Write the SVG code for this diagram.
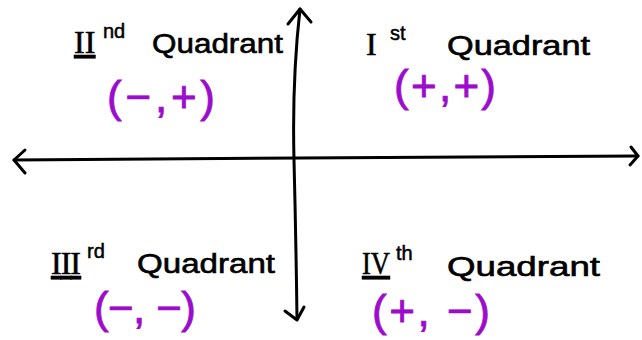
<svg xmlns="http://www.w3.org/2000/svg" width="642" height="340" viewBox="0 0 642 340">
<style>
.ax{fill:none;stroke:#000;stroke-width:3;stroke-linecap:round;stroke-linejoin:round}
.rn{font-family:"Liberation Serif",serif;font-size:32px;fill:#000;stroke:#000;stroke-width:0.6}
.sup{font-family:"Liberation Sans",sans-serif;font-size:20px;fill:#000;stroke:#000;stroke-width:0.5}
.q{font-family:"Liberation Sans",sans-serif;font-size:27px;fill:#000;stroke:#000;stroke-width:0.6}
.s{font-family:"Liberation Sans",sans-serif;font-size:44px;fill:#9b0ccc;stroke:#9b0ccc;stroke-width:0.8}
</style>
<rect width="642" height="340" fill="#fff"/>
<g id="axes">
<path class="ax" d="M14,160 L300,158 L638,156"/>
<path class="ax" d="M25,150 L14,160 L25,173"/>
<path class="ax" d="M631,147 L638,156 L630,165"/>
<path class="ax" d="M300,9 Q292,80 294,160 Q296,240 297,319"/>
<path class="ax" d="M288,24 L300,9 L311,22"/>
<path class="ax" d="M285,311 L297,320 L304,307"/>
</g>
<g id="q2">
<text class="rn" x="74" y="53" text-decoration="underline">II</text>
<text class="sup" x="103" y="38">nd</text>
<text class="q" x="152" y="53" textLength="131" lengthAdjust="spacingAndGlyphs">Quadrant</text>
<text class="s" x="107" y="112" textLength="108" lengthAdjust="spacing">(−,+)</text>
</g>
<g id="q1">
<text class="rn" x="366" y="55">I</text>
<text class="sup" x="390" y="40">st</text>
<text class="q" x="447" y="55" textLength="143" lengthAdjust="spacingAndGlyphs">Quadrant</text>
<text class="s" x="394" y="101" textLength="102" lengthAdjust="spacing">(+,+)</text>
</g>
<g id="q3">
<text class="rn" x="51" y="274" textLength="30" text-decoration="underline">III</text>
<text class="sup" x="87" y="258">rd</text>
<text class="q" x="137" y="273" textLength="138" lengthAdjust="spacingAndGlyphs">Quadrant</text>
<text class="s" x="94" y="323" textLength="102" lengthAdjust="spacing">(−, −)</text>
</g>
<g id="q4">
<text class="rn" x="362" y="274" textLength="28" lengthAdjust="spacingAndGlyphs" text-decoration="underline">IV</text>
<text class="sup" x="396" y="260">th</text>
<text class="q" x="447" y="276" textLength="153" lengthAdjust="spacingAndGlyphs">Quadrant</text>
<text class="s" x="372" y="326" textLength="118" lengthAdjust="spacing">(+, −)</text>
</g>
</svg>
